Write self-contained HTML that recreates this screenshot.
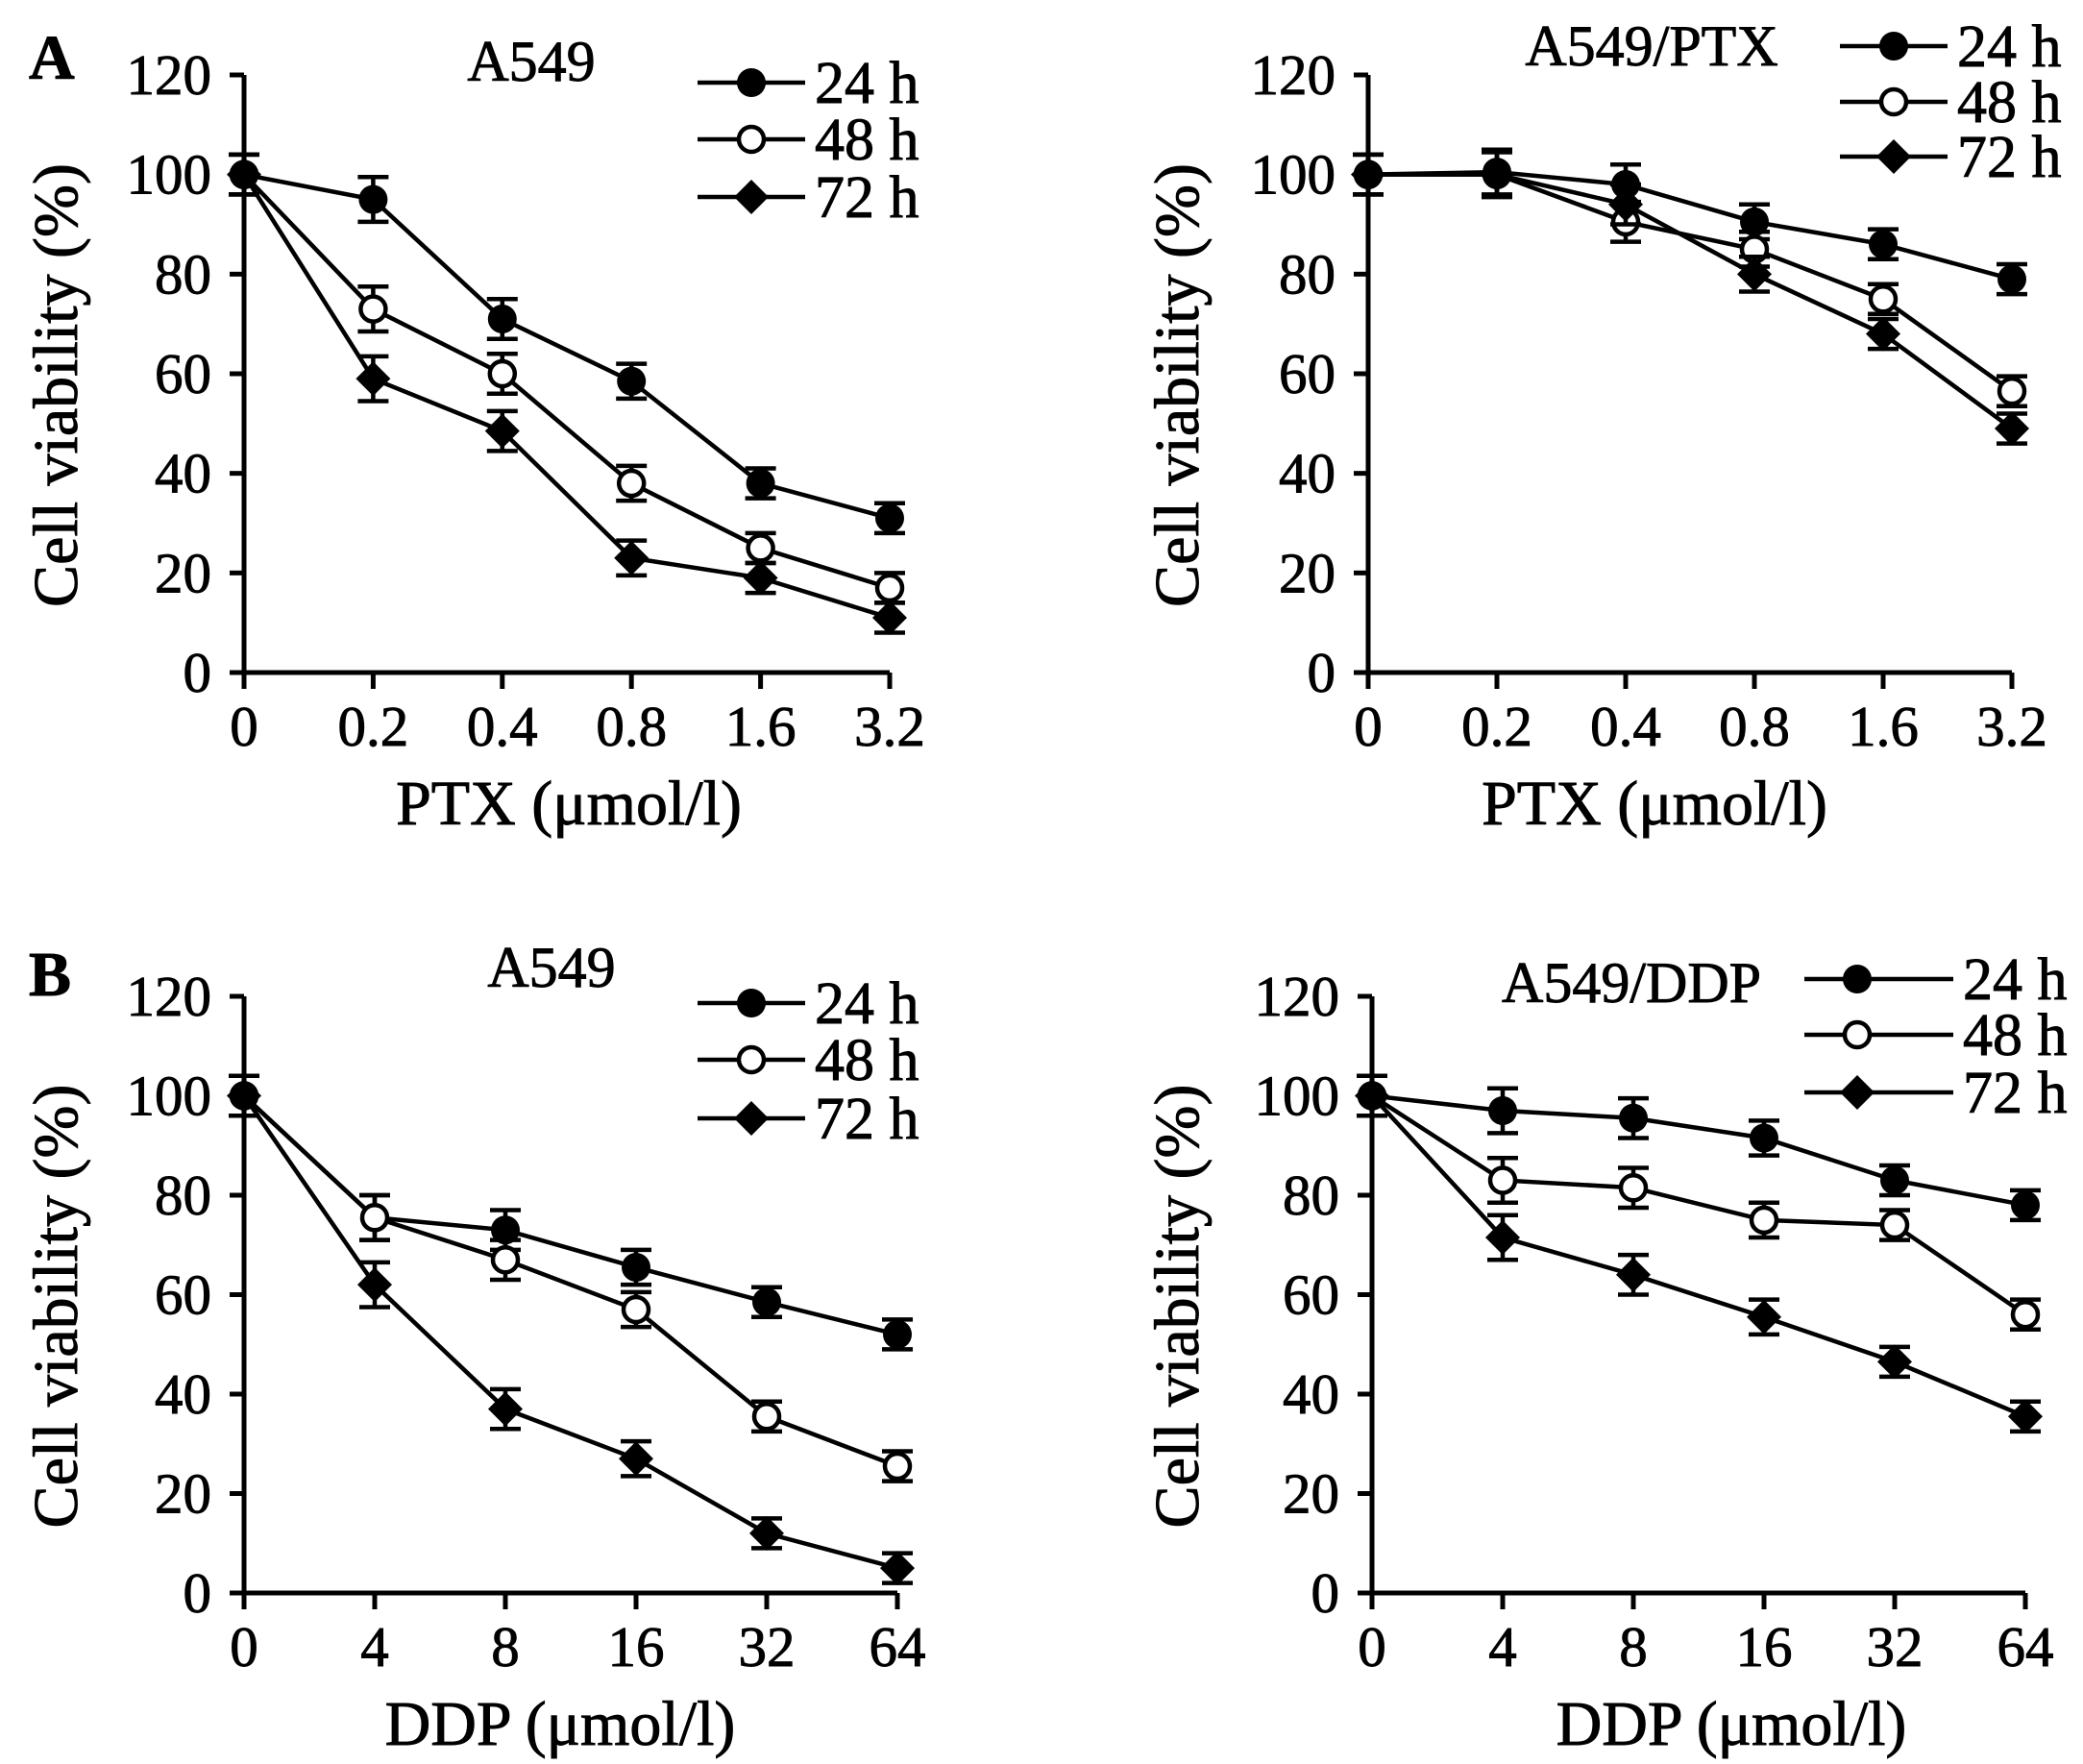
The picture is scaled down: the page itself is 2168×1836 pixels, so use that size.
<!DOCTYPE html>
<html><head><meta charset="utf-8"><style>
html,body{margin:0;padding:0;background:#fff}
svg{display:block}
text{font-family:"Liberation Serif",serif;fill:#000;stroke:#000;stroke-width:0.9}
</style></head><body>
<svg id="fig" width="2168" height="1836" viewBox="0 0 2168 1836" xmlns="http://www.w3.org/2000/svg"></svg>
<script>
const xLabelsPTX = ["0","0.2","0.4","0.8","1.6","3.2"];
const xLabelsDDP = ["0","4","8","16","32","64"];
const yTicks = [0,20,40,60,80,100,120];
const seriesNames = ["24 h","48 h","72 h"];
const aLeft24 = [100,95,71,58.5,38,31];
const aLeft48 = [100,73,60,38,25,17];
const aLeft72 = [100,59,48.5,23,19,11];
const aRight24 = [100,100.5,98,90.5,86,79];
const aRight48 = [100,100,90.5,85,75,56.5];
const aRight72 = [100,100,94,80,68,49];
const bLeft24 = [100,75.5,73,65.5,58.5,52];
const bLeft48 = [100,75.5,67,57,35.5,25.5];
const bLeft72 = [100,62,37,27,12,5];
const bRight24 = [100,97,95.5,91.5,83,78];
const bRight48 = [100,83,81.5,75,74,56];
const bRight72 = [100,71.5,64,55.5,46.5,35.5];
const errA = [4,4.5,4,3.5,3,3];

const NS="http://www.w3.org/2000/svg";
const svg=document.getElementById('fig');
function el(tag,attrs,parent){const e=document.createElementNS(NS,tag);for(const k in attrs)e.setAttribute(k,attrs[k]);(parent||svg).appendChild(e);return e;}
function txt(s,attrs,parent){const e=el('text',attrs,parent);e.textContent=s;return e;}

function marker(g,type,cx,cy){
  let m;
  if(type===0) m=el('circle',{cx:cx,cy:cy,r:15,fill:'#000'},g);
  else if(type===1) m=el('circle',{cx:cx,cy:cy,r:13,fill:'#fff',stroke:'#000','stroke-width':4.5},g);
  else m=el('polygon',{points:`${cx},${cy-18} ${cx+18},${cy} ${cx},${cy+18} ${cx-18},${cy}`,fill:'#000'},g);
  return m;
}

function panel(cfg){
  const g=el('g',{});
  
  
  const X=i=>cfg.x0+i*cfg.dx;
  const Y=v=>cfg.y0-(v/120)*(cfg.y0-cfg.y120);
  const xEnd=X(5);
  const ax=el('path',{d:`M${cfg.x0},${Y(120)} V${cfg.y0} H${xEnd}`,fill:'none',stroke:'#000','stroke-width':5},g);
  
  
  yTicks.forEach(t=>{
    el('line',{x1:cfg.x0-15,x2:cfg.x0,y1:Y(t),y2:Y(t),stroke:'#000','stroke-width':5},g);
    const l=txt(String(t),{x:cfg.x0-34,y:Y(t)+20,'font-size':59,'text-anchor':'end'},g);
    
    
  });
  cfg.xl.forEach((s,i)=>{
    el('line',{x1:X(i),x2:X(i),y1:cfg.y0,y2:cfg.y0+17,stroke:'#000','stroke-width':5},g);
    const l=txt(s,{x:X(i),y:cfg.y0+76,'font-size':59,'text-anchor':'middle'},g);
    
    
  });
  const yt=txt('Cell viability (%)',{transform:`translate(${cfg.yTitleX},${(Y(0)+Y(120))/2+12}) rotate(-90)`,'font-size':66,'text-anchor':'middle'},g);
  
  
  const xt=txt(cfg.xTitle,{x:cfg.xTitleX,y:cfg.y0+158,'font-size':66,'text-anchor':'middle'},g);
  
  
  const tt=txt(cfg.title,{x:cfg.titleX,y:cfg.titleY,'font-size':60,'text-anchor':'middle'},g);
  
  
  cfg.series.forEach((vals,s)=>{
    const sg=el('g',{},g);
    
    
    el('polyline',{points:vals.map((v,i)=>X(i)+','+Y(v)).join(' '),fill:'none',stroke:'#000','stroke-width':4.5},sg);
    vals.forEach((v,i)=>{
      const e=errA[i];
      const y1=Y(v+e),y2=Y(v-e);
      el('path',{d:`M${X(i)},${y1}V${y2}M${X(i)-16},${y1}H${X(i)+16}M${X(i)-16},${y2}H${X(i)+16}`,stroke:'#000','stroke-width':4.5,fill:'none'},sg);
      const m=marker(sg,s,X(i),Y(v));
      
      
    });
  });
  const lw=cfg.legW||112, lm=cfg.legM||56;
  seriesNames.forEach((n,s)=>{
    const lg=el('g',{},g);
    
    
    const y=cfg.legY[s];
    el('line',{x1:cfg.legX,x2:cfg.legX+lw,y1:y,y2:y,stroke:'#000','stroke-width':4.5},lg);
    marker(lg,s,cfg.legX+lm,y);
    txt(n,{x:cfg.legX+lw+10,y:y+21,'font-size':62},lg);
  });
}

panel({name:'panel-a-a549',x0:254,dx:134.4,y0:700,y120:78,xl:xLabelsPTX,xTitle:'PTX (μmol/l)',xTitleX:592,title:'A549',titleX:553,titleY:84,yTitleX:80,series:[aLeft24,aLeft48,aLeft72],legX:726,legY:[86,145,205]});
panel({name:'panel-a-a549-ptx',x0:1424,dx:134,y0:700,y120:78,xl:xLabelsPTX,xTitle:'PTX (μmol/l)',xTitleX:1722,title:'A549/PTX',titleX:1719,titleY:68,yTitleX:1247,series:[aRight24,aRight48,aRight72],legX:1915,legY:[48,106,163]});
panel({name:'panel-b-a549',x0:254,dx:136,y0:1658,y120:1037,xl:xLabelsDDP,xTitle:'DDP (μmol/l)',xTitleX:583,title:'A549',titleX:574,titleY:1027,yTitleX:80,series:[bLeft24,bLeft48,bLeft72],legX:726,legY:[1044,1103,1164]});
panel({name:'panel-b-a549-ddp',x0:1428,dx:136,y0:1658,y120:1037,xl:xLabelsDDP,xTitle:'DDP (μmol/l)',xTitleX:1802,title:'A549/DDP',titleX:1698,titleY:1043,yTitleX:1247,series:[bRight24,bRight48,bRight72],legX:1878,legW:155,legM:55,legY:[1019,1077,1137]});

const la=txt('A',{x:30,y:82,'font-size':66,'font-weight':'bold'});


const lb=txt('B',{x:30,y:1036,'font-size':66,'font-weight':'bold'});


</script>
</body></html>
